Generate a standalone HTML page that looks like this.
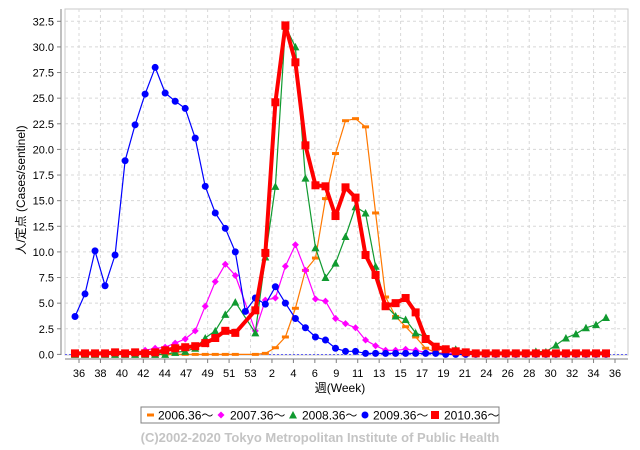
<!DOCTYPE html>
<html><head><meta charset="utf-8">
<style>
html,body{margin:0;padding:0;background:#fff;}
svg{display:block;font-family:"Liberation Sans","Noto Sans CJK JP",sans-serif;}
</style></head>
<body>
<svg id="chart" width="640" height="450" viewBox="0 0 640 450" xmlns="http://www.w3.org/2000/svg">
  <rect x="0" y="0" width="640" height="450" fill="#fff"/>
  <rect x="65" y="9" width="563" height="346" fill="#fff" stroke="#c8c8c8" stroke-width="1"/>
  <g id="grid"></g>
  <g id="axes"></g>
  <g id="series"></g>
  <text x="340" y="392" font-size="12" text-anchor="middle" fill="#000">週(Week)</text>
  <text x="0" y="0" font-size="12" text-anchor="middle" fill="#000" transform="translate(25,190) rotate(-90)">人/定点 (Cases/sentinel)</text>
  <g>
    <rect x="141" y="407" width="358" height="16" fill="#fff" stroke="#808080" stroke-width="1"/>
    <g><rect x="147" y="413.5" width="7" height="3" fill="#ff7800"/><text x="158" y="419.5" font-size="12">2006.36～</text></g>
    <g><polygon points="221,411.5 224.5,415 221,418.5 217.5,415" fill="#ff00ff"/><text x="230" y="419.5" font-size="12">2007.36～</text></g>
    <g><polygon points="293,411 297,418.5 289,418.5" fill="#109a30"/><text x="302" y="419.5" font-size="12">2008.36～</text></g>
    <g><circle cx="365" cy="415" r="3.5" fill="#0000ff"/><text x="373" y="419.5" font-size="12">2009.36～</text></g>
    <g><rect x="431" y="411" width="8" height="8" fill="#ff0000"/><text x="444" y="419.5" font-size="12">2010.36～</text></g>
  </g>
  <text x="320" y="442" font-size="13" font-weight="bold" text-anchor="middle" fill="#c4c4c4">(C)2002-2020 Tokyo Metropolitan Institute of Public Health</text>
</svg>
<script>
const categories = [36,37,38,39,40,41,42,43,44,45,46,47,48,49,50,51,52,53,1,2,3,4,5,6,7,8,9,10,11,12,13,14,15,16,17,18,19,20,21,22,23,24,25,26,27,28,29,30,31,32,33,34,35,36];
const xTickLabels = ["36","38","40","42","44","47","49","51","53","2","4","6","9","11","13","15","17","19","21","24","26","28","30","32","34","36"];
const yTicks = [0,2.5,5,7.5,10,12.5,15,17.5,20,22.5,25,27.5,30,32.5];
const s2006 = [0,0,0,0,0,0,0,0,0,0,0,0,0,0,0,0,0,null,0,0.1,0.65,1.7,4.5,8.2,9.4,15.2,19.6,22.8,23.0,22.2,13.8,5.6,3.7,2.7,1.7,0.6,0.2,0.1,0.1,0.1,0.1,0.1,0.1,0.1,0.1,0.1,0.1,0.1,0.1,0.1,0.1,0.1,0.1,0.1];
const s2007 = [0.1,0.1,0.1,0.1,0.1,0.1,0.2,0.4,0.6,0.7,1.1,1.5,2.3,4.7,7.1,8.8,7.7,null,2.3,5.3,5.5,8.6,10.7,8.2,5.4,5.2,3.5,3.0,2.6,1.4,0.85,0.4,0.4,0.5,0.4,0.2,0.1,0.1,0.1,0.1,0.1,0.1,0.1,0.1,0.1,0.1,0.1,0.1,0.1,0.1,0.1,0.1,0.1,0.1];
const s2008 = [0,0,0,0,0,0,0,0,0,0,0.2,0.3,0.6,1.6,2.3,3.9,5.1,null,2.1,9.5,16.4,32.0,30.0,17.2,10.4,7.5,8.9,11.5,14.4,13.8,8.6,4.8,3.75,3.4,2.1,1.7,0.75,0.5,0.5,0.2,0.1,0.1,0.1,0.1,0.1,0.1,0.3,0.25,0.9,1.6,2.0,2.6,2.9,3.6];
const s2009 = [3.7,5.9,10.1,6.7,9.7,18.9,22.4,25.4,28.0,25.5,24.7,24.0,21.1,16.4,13.8,12.3,10.0,4.2,5.5,4.9,6.6,5.0,3.5,2.6,1.7,1.4,0.6,0.3,0.3,0.1,0.1,0.1,0.1,0.1,0.1,0.1,0.1,0,0,0,0,0,0,0,0,0,0,0,0,0,0,0,0,0];
const s2010 = [0.1,0.1,0.1,0.1,0.2,0.1,0.2,0.1,0.2,0.4,0.6,0.7,0.8,1.1,1.6,2.3,2.1,null,4.3,9.9,24.6,32.1,28.5,20.4,16.5,16.4,13.5,16.3,15.3,9.7,7.75,4.7,5.0,5.5,4.1,1.5,0.75,0.5,0.3,0.2,0.1,0.1,0.1,0.1,0.1,0.1,0.1,0.1,0.1,0.1,0.1,0.1,0.1,0.1];

const NS = "http://www.w3.org/2000/svg";
const X0 = 75, XSTEP = (606 - 75) / 53;
const Y0 = 354.4, YMAX = 32.5, YTOP = 21.3;
function xScale(i){ return X0 + i * XSTEP; }
function yScale(v){ return Y0 - (v / YMAX) * (Y0 - YTOP); }
function labelX(k){ return 79 + k * 21.44; }
function mk(tag, attrs, parent){
  const el = document.createElementNS(NS, tag);
  for (const k in attrs) el.setAttribute(k, attrs[k]);
  parent.appendChild(el);
  return el;
}
const grid = document.getElementById('grid');
const axes = document.getElementById('axes');
const series = document.getElementById('series');

yTicks.forEach(function(t){
  const y = yScale(t);
  if (t > 0) {
    const g = mk('line', {x1:65, x2:628, y1:y, y2:y, stroke:'#d8d8d8', 'stroke-dasharray':'3,3', 'stroke-width':1}, grid);
    
    
  }
  const tk = mk('line', {x1:57, x2:61, y1:y, y2:y, stroke:'#808080'}, axes);
  
  
  const tx = mk('text', {x:54, y:y+4, 'font-size':11, 'text-anchor':'end', fill:'#000'}, axes);
  tx.textContent = t.toFixed(1);
  
  
});
xTickLabels.forEach(function(lab, k){
  const x = labelX(k);
  const g = mk('line', {x1:x, x2:x, y1:9, y2:355, stroke:'#d8d8d8', 'stroke-dasharray':'3,3', 'stroke-width':1}, grid);
  
  
  const tk = mk('line', {x1:x, x2:x, y1:359, y2:363, stroke:'#808080'}, axes);
  
  
  const tx = mk('text', {x:x, y:377, 'font-size':11, 'text-anchor':'middle', fill:'#000'}, axes);
  tx.textContent = lab;
  
  
});
const ya = mk('line', {x1:61, x2:61, y1:9, y2:355, stroke:'#808080'}, axes);


const xa = mk('line', {x1:65, x2:628, y1:359, y2:359, stroke:'#808080'}, axes);


const zl = mk('line', {x1:65, x2:628, y1:Y0, y2:Y0, stroke:'#4040ff', 'stroke-dasharray':'2,2', 'stroke-width':0.8}, axes);



function drawSeries(name, data, color, width, marker){
  const g = mk('g', {}, series);
  
  
  const pts = [];
  data.forEach(function(v, i){ if (v !== null) pts.push([xScale(i), yScale(v)]); });
  const pl = mk('polyline', {points: pts.map(function(p){return p[0].toFixed(1)+','+p[1].toFixed(1);}).join(' '), fill:'none', stroke:color, 'stroke-width':width, 'stroke-linejoin':'round'}, g);
  
  
  pts.forEach(function(p){
    const x = p[0], y = p[1];
    let m;
    if (marker === 'rect') m = mk('rect', {x:x-3.5, y:y-1.5, width:7, height:3, fill:color}, g);
    else if (marker === 'diamond') m = mk('polygon', {points:(x)+','+(y-3.5)+' '+(x+3.5)+','+y+' '+x+','+(y+3.5)+' '+(x-3.5)+','+y, fill:color}, g);
    else if (marker === 'tri') m = mk('polygon', {points:x+','+(y-4)+' '+(x+4)+','+(y+3.5)+' '+(x-4)+','+(y+3.5), fill:color}, g);
    else if (marker === 'circle') m = mk('circle', {cx:x, cy:y, r:3.5, fill:color}, g);
    else m = mk('rect', {x:x-4, y:y-4, width:8, height:8, fill:color}, g);
    
    
  });
}
drawSeries('2006', s2006, '#ff7800', 1.2, 'rect');
drawSeries('2007', s2007, '#ff00ff', 1.2, 'diamond');
drawSeries('2008', s2008, '#109a30', 1.2, 'tri');
drawSeries('2009', s2009, '#0000ff', 1.2, 'circle');
drawSeries('2010', s2010, '#ff0000', 4, 'square');
</script>
</body></html>
